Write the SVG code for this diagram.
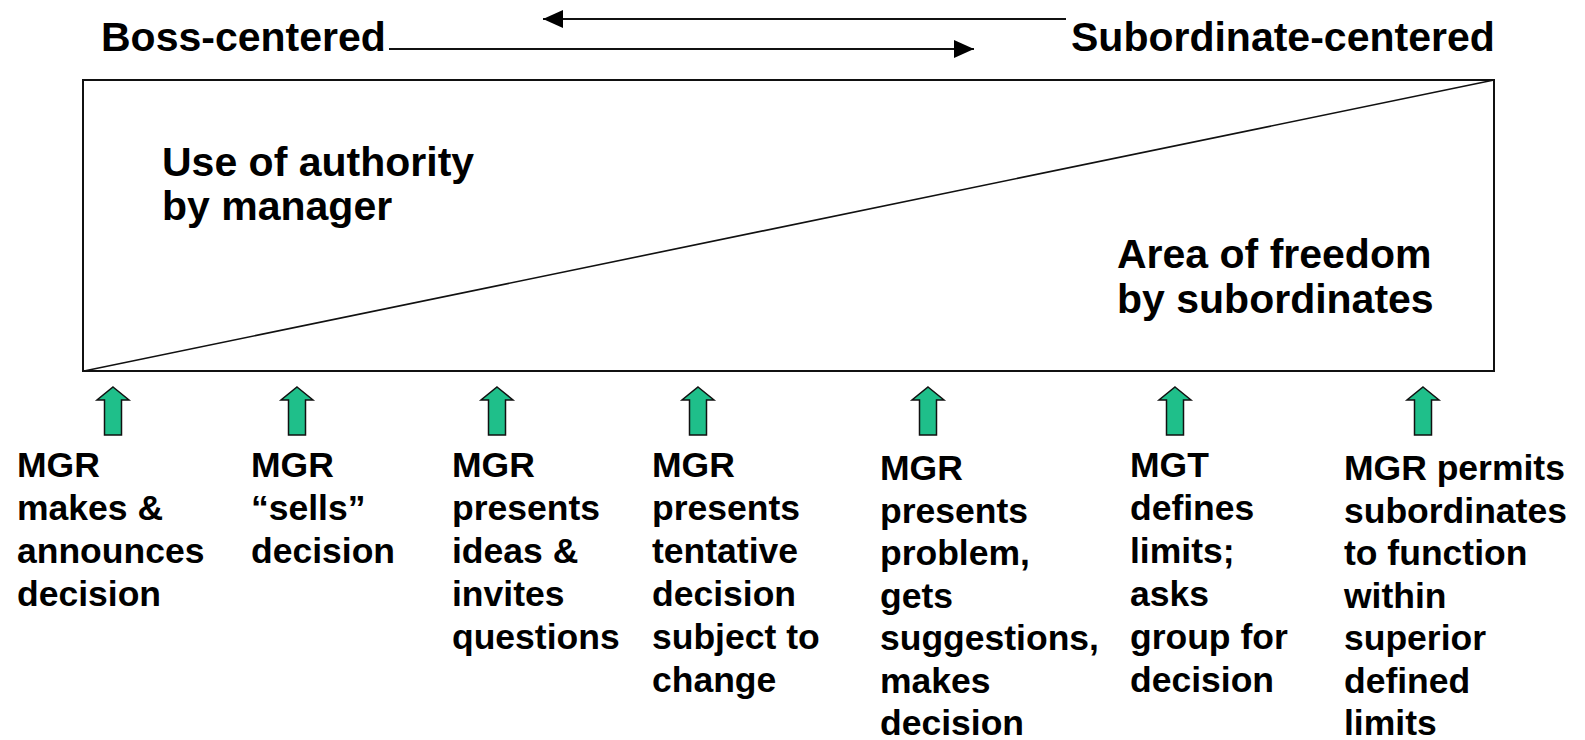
<svg xmlns="http://www.w3.org/2000/svg" width="1585" height="740" viewBox="0 0 1585 740">
<style>
text{font-family:"Liberation Sans",Arial,sans-serif;font-weight:bold;fill:#000}
.big{font-size:41px}
.col{font-size:35.5px}
.ln{stroke:#111;stroke-width:2;fill:none}
.up{fill:#1fbf8a;stroke:#111;stroke-width:1.5;stroke-linejoin:miter}
</style>
<defs>
<marker id="ah" viewBox="0 0 20 18" refX="20" refY="9" markerWidth="20" markerHeight="18" markerUnits="userSpaceOnUse" orient="auto" preserveAspectRatio="none">
<path d="M0,0 L20,9 L0,18 Z" fill="#000"/>
</marker>
<path id="garrow" d="M0,-24 L16,-11 L8.5,-11 L8.5,24 L-8.5,24 L-8.5,-11 L-16,-11 Z"/>
</defs>
<rect width="1585" height="740" fill="#fff"/>
<g id="connectors">
<line x1="1066" y1="19" x2="543" y2="19" stroke="#111" stroke-width="2" marker-end="url(#ah)"/>
<line x1="389" y1="49" x2="974" y2="49" stroke="#111" stroke-width="2" marker-end="url(#ah)"/>
</g>
<g id="frame">
<rect x="83" y="80" width="1411" height="291" class="ln"/>
<line x1="84" y1="371" x2="1494" y2="80" stroke="#111" stroke-width="1.6"/>
</g>
<g id="headers">
<text class="big" x="101" y="51">Boss-centered</text>
<text class="big" x="1071" y="51">Subordinate-centered</text>
</g>
<g id="authority">
<text class="big" x="162" y="176">Use of authority</text>
<text class="big" x="162" y="220">by manager</text>
</g>
<g id="freedom">
<text class="big" x="1117" y="268">Area of freedom</text>
<text class="big" x="1117" y="313">by subordinates</text>
</g>
<g id="arrows">
<use href="#garrow" class="up" x="113" y="411"/>
<use href="#garrow" class="up" x="297" y="411"/>
<use href="#garrow" class="up" x="497" y="411"/>
<use href="#garrow" class="up" x="698" y="411"/>
<use href="#garrow" class="up" x="928" y="411"/>
<use href="#garrow" class="up" x="1175" y="411"/>
<use href="#garrow" class="up" x="1423" y="411"/>
</g>
<g id="col1"><text class="col" x="17" y="477">MGR<tspan x="17" dy="43">makes &amp;</tspan><tspan x="17" dy="43">announces</tspan><tspan x="17" dy="43">decision</tspan></text></g>
<g id="col2"><text class="col" x="251" y="477">MGR<tspan x="251" dy="43">“sells”</tspan><tspan x="251" dy="43">decision</tspan></text></g>
<g id="col3"><text class="col" x="452" y="477">MGR<tspan x="452" dy="43">presents</tspan><tspan x="452" dy="43">ideas &amp;</tspan><tspan x="452" dy="43">invites</tspan><tspan x="452" dy="43">questions</tspan></text></g>
<g id="col4"><text class="col" x="652" y="477">MGR<tspan x="652" dy="43">presents</tspan><tspan x="652" dy="43">tentative</tspan><tspan x="652" dy="43">decision</tspan><tspan x="652" dy="43">subject to</tspan><tspan x="652" dy="43">change</tspan></text></g>
<g id="col5"><text class="col" x="880" y="480">MGR<tspan x="880" dy="42.5">presents</tspan><tspan x="880" dy="42.5">problem,</tspan><tspan x="880" dy="42.5">gets</tspan><tspan x="880" dy="42.5">suggestions,</tspan><tspan x="880" dy="42.5">makes</tspan><tspan x="880" dy="42.5">decision</tspan></text></g>
<g id="col6"><text class="col" x="1130" y="477">MGT<tspan x="1130" dy="43">defines</tspan><tspan x="1130" dy="43">limits;</tspan><tspan x="1130" dy="43">asks</tspan><tspan x="1130" dy="43">group for</tspan><tspan x="1130" dy="43">decision</tspan></text></g>
<g id="col7"><text class="col" x="1344" y="480">MGR permits<tspan x="1344" dy="42.5">subordinates</tspan><tspan x="1344" dy="42.5">to function</tspan><tspan x="1344" dy="42.5">within</tspan><tspan x="1344" dy="42.5">superior</tspan><tspan x="1344" dy="42.5">defined</tspan><tspan x="1344" dy="42.5">limits</tspan></text></g>
</svg>
